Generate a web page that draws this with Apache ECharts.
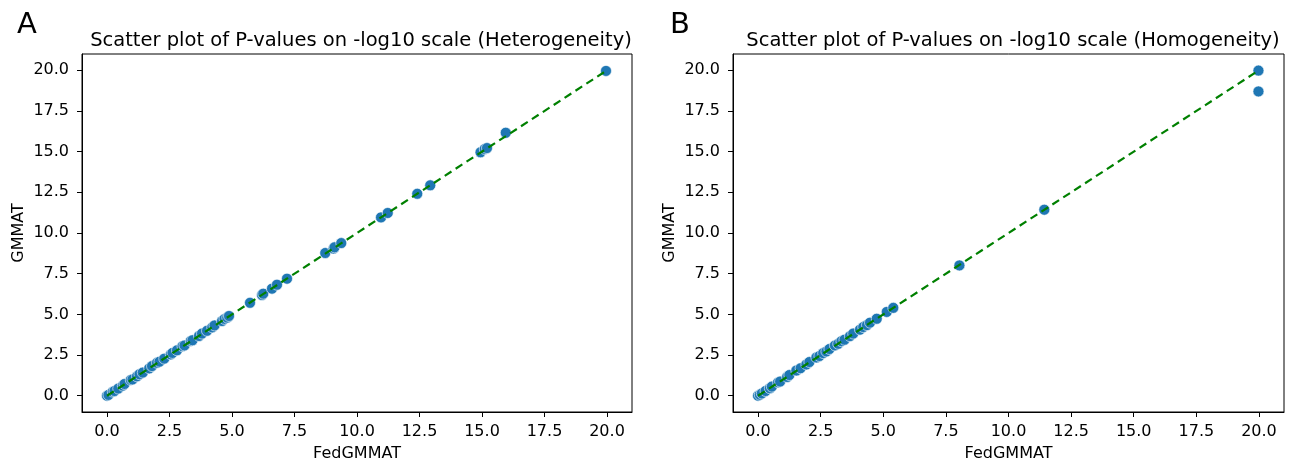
<!DOCTYPE html>
<html>
<head>
<meta charset="utf-8">
<script src="https://cdn.jsdelivr.net/npm/echarts@6/dist/echarts.min.js"></script>
<style>
html,body{margin:0;padding:0;background:#fff;}
#chart{width:1297px;height:463px;}
</style>
</head>
<body>
<div id="chart"></div>
<script>
// ---- data ----
const tickValues = [0, 2.5, 5, 7.5, 10, 12.5, 15, 17.5, 20];
const diagLine = [[0, 0], [20, 20]];

const hetX = [0.0, 0.06, 0.23, 0.3, 0.45, 0.63, 0.7, 0.95, 1.02, 1.2, 1.3, 1.43, 1.69, 1.8, 2.0, 2.1, 2.29, 2.55, 2.62, 2.8, 3.02, 3.1, 3.35, 3.42, 3.68, 3.8, 4.0, 4.21, 4.3, 4.6, 4.7, 4.81, 4.88, 5.72, 6.2, 6.25, 6.6, 6.8, 7.2, 8.73, 9.06, 9.1, 9.37, 10.96, 11.23, 12.41, 12.93, 14.94, 15.11, 15.2, 15.95, 19.96];
const hetY = [0.0, 0.05, 0.25, 0.29, 0.44, 0.62, 0.72, 0.97, 1.0, 1.19, 1.32, 1.42, 1.68, 1.82, 2.02, 2.09, 2.28, 2.54, 2.63, 2.79, 3.04, 3.09, 3.37, 3.41, 3.67, 3.82, 3.99, 4.2, 4.32, 4.59, 4.72, 4.8, 4.9, 5.71, 6.19, 6.27, 6.58, 6.82, 7.19, 8.77, 9.04, 9.12, 9.38, 10.96, 11.23, 12.41, 12.93, 14.96, 15.16, 15.22, 16.16, 19.96];

const homX = [0.0, 0.07, 0.15, 0.3, 0.47, 0.55, 0.8, 0.88, 1.16, 1.25, 1.53, 1.7, 1.93, 2.05, 2.33, 2.45, 2.6, 2.73, 2.85, 3.07, 3.2, 3.33, 3.45, 3.67, 3.8, 4.07, 4.2, 4.35, 4.47, 4.74, 5.14, 5.4, 8.04, 11.43, 19.98, 19.98];
const homY = [0.0, 0.06, 0.14, 0.29, 0.46, 0.56, 0.82, 0.87, 1.15, 1.27, 1.55, 1.69, 1.92, 2.07, 2.35, 2.44, 2.62, 2.72, 2.87, 3.09, 3.19, 3.35, 3.44, 3.66, 3.82, 4.06, 4.22, 4.34, 4.49, 4.73, 5.15, 5.4, 8.01, 11.43, 19.98, 18.7];

const titles = ['Scatter plot of P-values on -log10 scale (Heterogeneity)', 'Scatter plot of P-values on -log10 scale (Homogeneity)'];
const panelLetters = ['A', 'B'];
const xName = 'FedGMMAT';
const yName = 'GMMAT';

// ---- chart ----
const FONT = 'DejaVu Sans';
const grids = [
  {left: 82, top: 54, width: 550, height: 358},
  {left: 733, top: 54, width: 551, height: 358}
];
function pair(xs, ys){ return xs.map((x, i) => [x, ys[i]]); }
function axisCommon(isX, gi){
  return {
    type: 'value', gridIndex: gi, min: -1, max: 21,
    name: isX ? xName : yName,
    nameLocation: 'middle',
    nameGap: isX ? 34 : 55,
    nameTextStyle: {fontFamily: FONT, fontSize: 16, color: '#000'},
    axisLine: {show: true, onZero: false, lineStyle: {color: '#000', width: 1}},
    axisTick: {show: true, inside: false, length: 5, lineStyle: {color: '#000'}, customValues: tickValues},
    axisLabel: {show: true, margin: isX ? 12 : 13, fontFamily: FONT, fontSize: 16, color: '#000',
      customValues: tickValues, formatter: v => Number(v).toFixed(1)},
    splitLine: {show: false}
  };
}
const option = {
  backgroundColor: '#fff',
  animation: false,
  title: [
    {text: titles[0], left: 356, top: 26, textAlign: 'center',
      textStyle: {fontFamily: FONT, fontSize: 19.5, fontWeight: 'normal', color: '#000'}},
    {text: titles[1], left: 1008, top: 26, textAlign: 'center',
      textStyle: {fontFamily: FONT, fontSize: 19.5, fontWeight: 'normal', color: '#000'}},
    {text: panelLetters[0], left: 12, top: 6,
      textStyle: {fontFamily: FONT, fontSize: 29, fontWeight: 'normal', color: '#000'}},
    {text: panelLetters[1], left: 665, top: 6,
      textStyle: {fontFamily: FONT, fontSize: 29, fontWeight: 'normal', color: '#000'}}
  ],
  grid: grids.map(g => Object.assign({show: true, borderColor: '#000', borderWidth: 1,
    backgroundColor: 'transparent', containLabel: false, outerBoundsMode: 'none'}, g)),
  xAxis: [axisCommon(true, 0), axisCommon(true, 1)],
  yAxis: [axisCommon(false, 0), axisCommon(false, 1)],
  series: [
    {type: 'scatter', xAxisIndex: 0, yAxisIndex: 0, data: pair(hetX, hetY), symbolSize: 11,
      itemStyle: {color: '#1f77b4', borderColor: '#fff', borderWidth: 0.6, opacity: 1}, z: 2},
    {type: 'line', xAxisIndex: 0, yAxisIndex: 0, data: diagLine, showSymbol: false, symbol: 'none',
      lineStyle: {color: '#008000', width: 2.2, type: [8, 5]}, z: 3},
    {type: 'scatter', xAxisIndex: 1, yAxisIndex: 1, data: pair(homX, homY), symbolSize: 11,
      itemStyle: {color: '#1f77b4', borderColor: '#fff', borderWidth: 0.6, opacity: 1}, z: 2},
    {type: 'line', xAxisIndex: 1, yAxisIndex: 1, data: diagLine, showSymbol: false, symbol: 'none',
      lineStyle: {color: '#008000', width: 2.2, type: [8, 5]}, z: 3}
  ]
};
const chart = echarts.init(document.getElementById('chart'), null, {renderer: 'canvas'});
chart.setOption(option);
</script>
</body>
</html>
